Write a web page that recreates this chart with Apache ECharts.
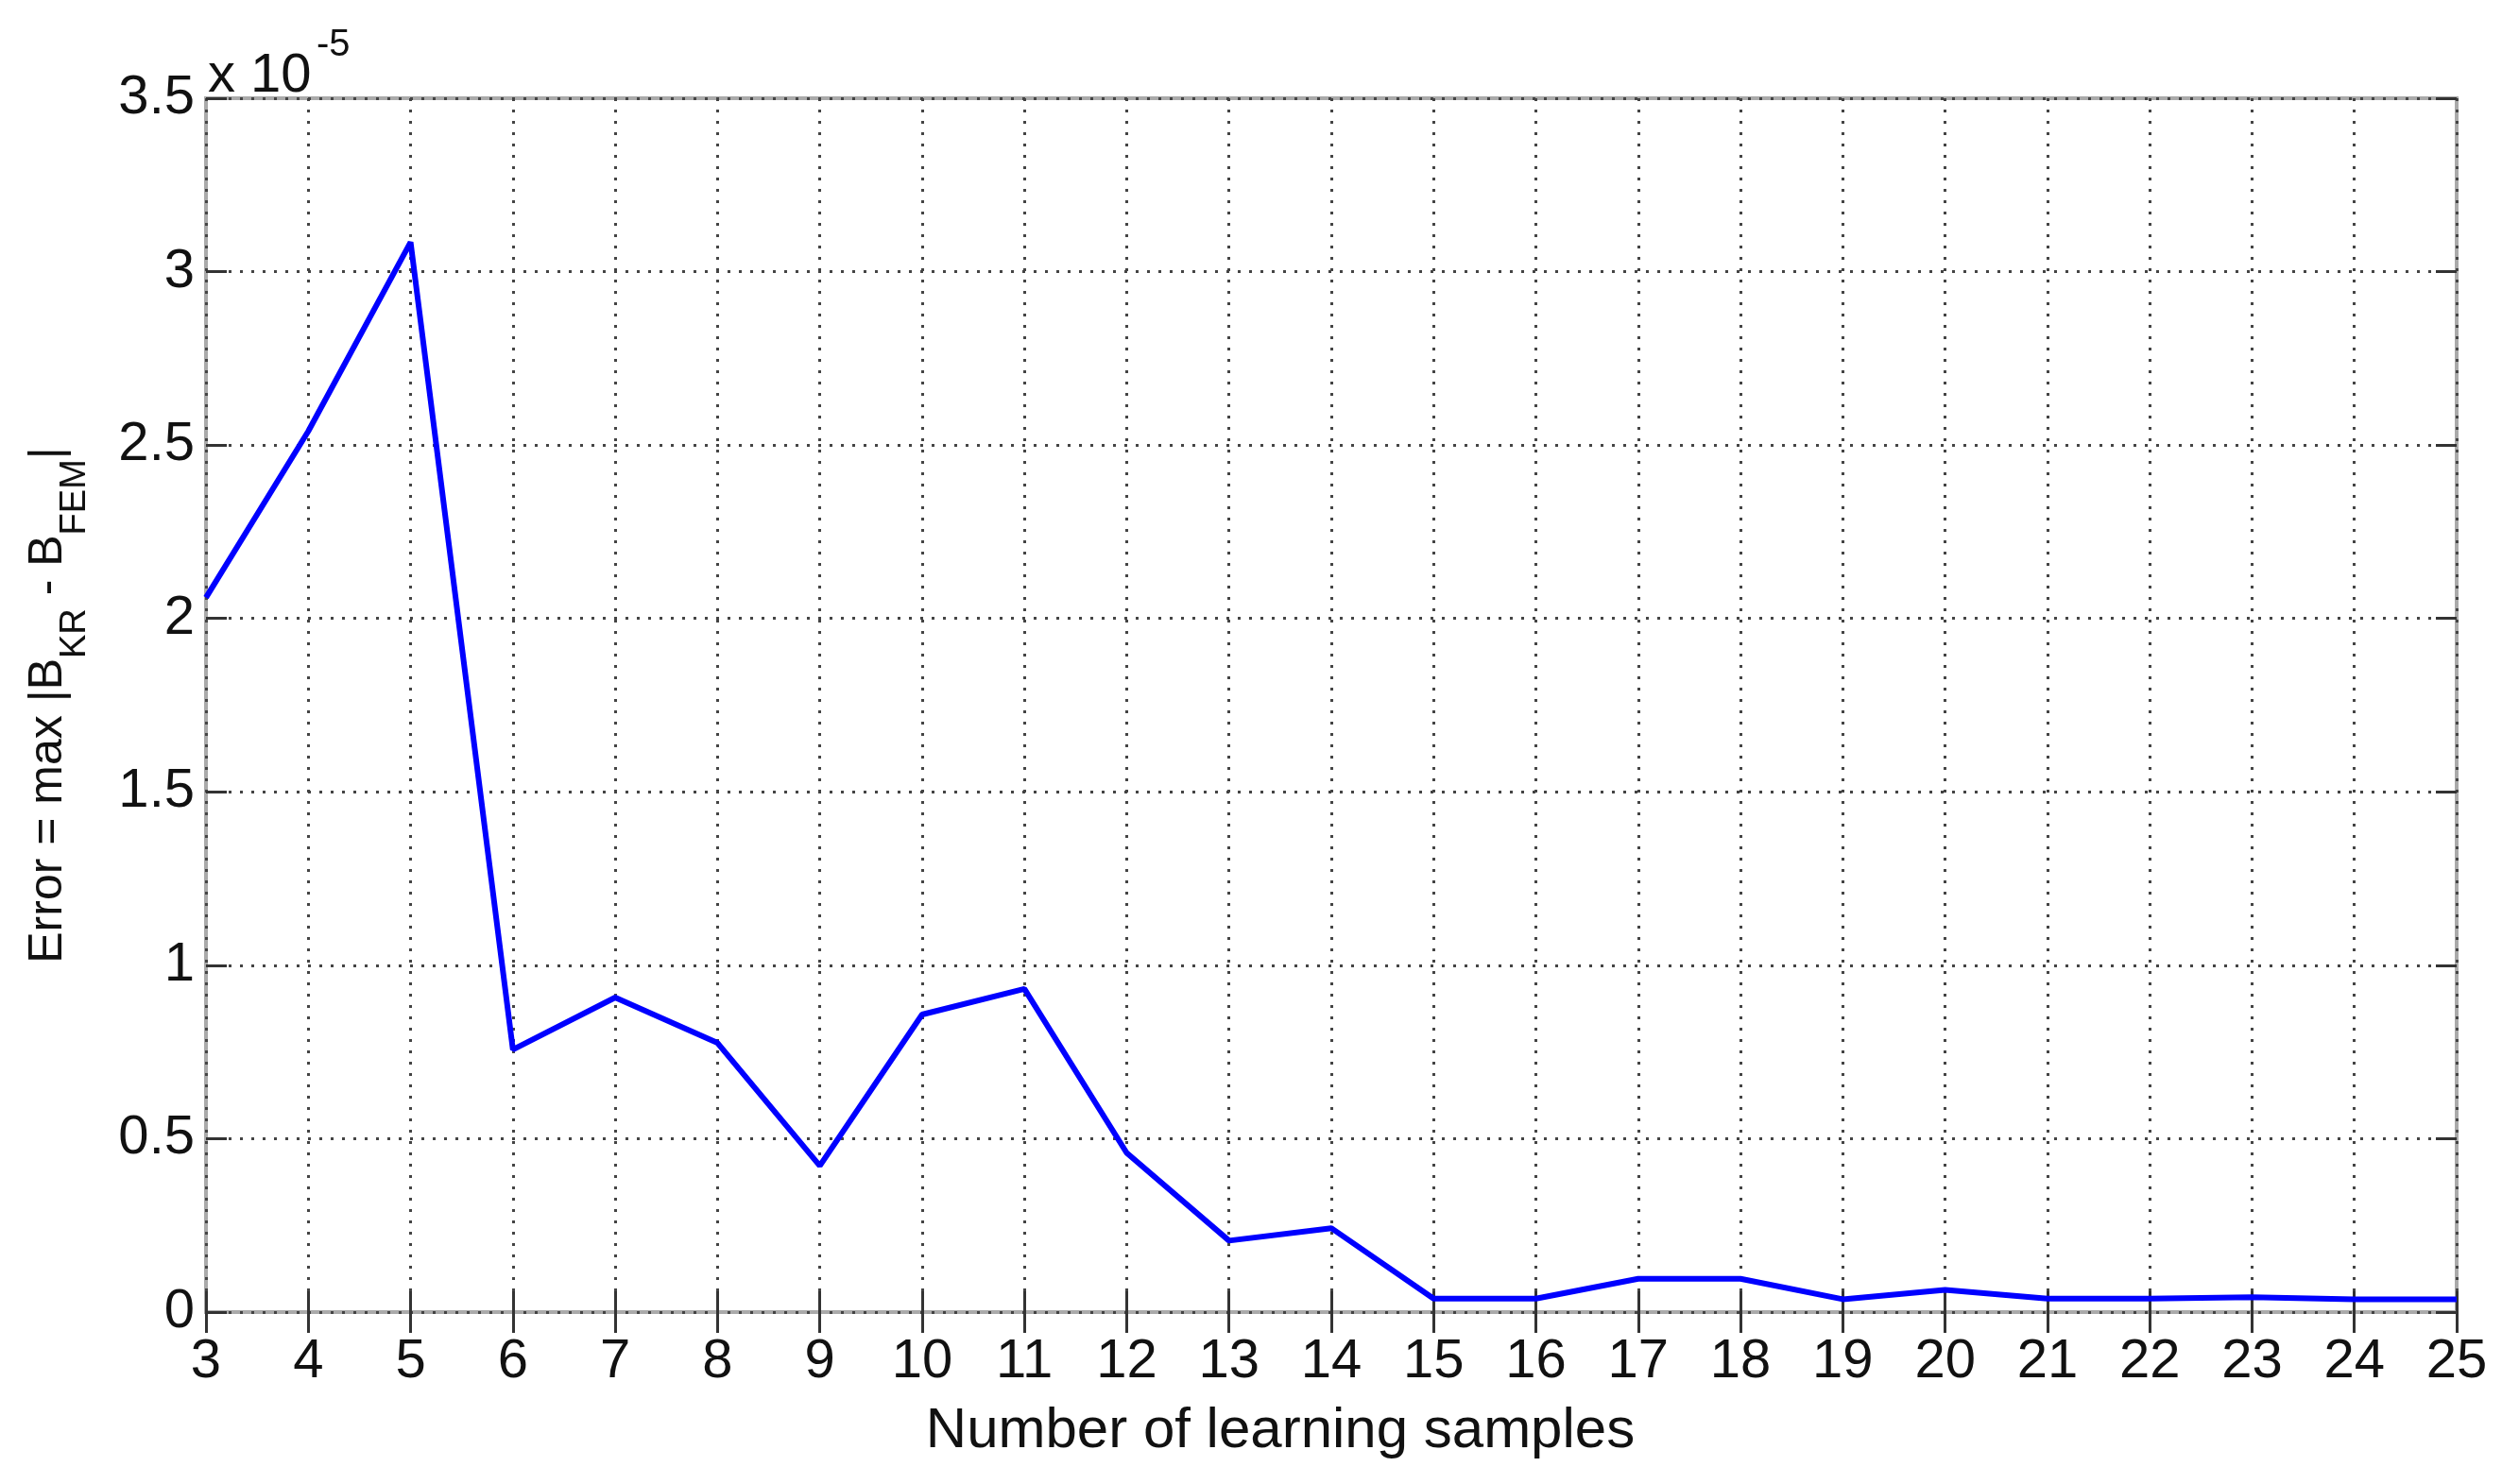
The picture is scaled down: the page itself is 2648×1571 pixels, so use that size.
<!DOCTYPE html>
<html>
<head>
<meta charset="utf-8">
<script src="https://cdn.jsdelivr.net/npm/echarts@6/dist/echarts.min.js"></script>
<style>
html,body{margin:0;padding:0;background:#fff;}
#chart{width:2648px;height:1571px;}
</style>
</head>
<body>
<div id="chart"></div>
<script>
// Number of learning samples
var samples = [3, 4, 5, 6, 7, 8, 9, 10, 11, 12, 13, 14, 15, 16, 17, 18, 19, 20, 21, 22, 23, 24, 25];
// Error values (in units of 1e-5)
var errorVals = [2.06, 2.54, 3.085, 0.757, 0.907, 0.776, 0.422, 0.858, 0.932, 0.459, 0.206, 0.242,
                 0.039, 0.039, 0.096, 0.096, 0.037, 0.064, 0.039, 0.039, 0.043, 0.037, 0.037];
var xTitle = 'Number of learning samples';
var yMin = 0, yMax = 3.5, yStep = 0.5;
var xMin = 3, xMax = 25, xStep = 1;
var exponentBase = 'x 10';
var exponentPow = '-5';

var FONT = "'Liberation Sans', Arial, Helvetica, sans-serif";
var FS = 58;

var chart = echarts.init(document.getElementById('chart'), null, {renderer: 'canvas'});

var dotted = {color: '#444', width: 3, type: [3, 9]};
var tickStyle = {show: true, inside: true, length: 22, lineStyle: {color: '#333', width: 3}};

var option = {
  backgroundColor: '#ffffff',
  animation: false,
  textStyle: {fontFamily: FONT},
  grid: {
    left: 218, right: 48, top: 104, bottom: 182,
    show: true, borderColor: '#aaaaaa', borderWidth: 4, backgroundColor: 'transparent'
  },
  graphic: [
    {type: 'text', left: 220, top: 52, style: {text: exponentBase, font: FS + 'px ' + FONT, fill: '#111'}},
    {type: 'text', left: 335, top: 28, style: {text: exponentPow, font: 40 + 'px ' + FONT, fill: '#111'}}
  ],
  xAxis: [{
    type: 'value', min: xMin, max: xMax, interval: xStep,
    name: xTitle, nameLocation: 'middle', nameGap: 96,
    nameTextStyle: {fontSize: 60, color: '#111', fontFamily: FONT, padding: [0, 108, 0, 0]},
    axisLine: {show: false},
    axisTick: tickStyle,
    axisLabel: {fontSize: FS, color: '#111', margin: 24, fontFamily: FONT},
    splitLine: {show: true, lineStyle: dotted}
  }, {
    type: 'value', min: xMin, max: xMax, interval: xStep, position: 'top',
    axisLine: {show: false},
    axisTick: tickStyle,
    axisLabel: {show: false}, splitLine: {show: false}
  }],
  yAxis: [{
    type: 'value', min: yMin, max: yMax, interval: yStep,
    name: '{n|Error = max |B}{s|KR}{n| - B}{s|FEM}{n||}',
    nameLocation: 'middle', nameGap: 119,
    nameTextStyle: {
      color: '#111', fontFamily: FONT,
      rich: {
        n: {fontSize: 50, lineHeight: 96, color: '#111', fontFamily: FONT},
        s: {fontSize: 38, lineHeight: 22, verticalAlign: 'bottom', color: '#111', fontFamily: FONT}
      }
    },
    axisLine: {show: false},
    axisTick: tickStyle,
    axisLabel: {fontSize: FS, color: '#111', margin: 12, fontFamily: FONT},
    splitLine: {show: true, lineStyle: dotted}
  }, {
    type: 'value', min: yMin, max: yMax, interval: yStep, position: 'right',
    axisLine: {show: false},
    axisTick: tickStyle,
    axisLabel: {show: false}, splitLine: {show: false}
  }],
  series: [{
    type: 'line',
    xAxisIndex: 0, yAxisIndex: 0,
    data: samples.map(function (x, i) { return [x, errorVals[i]]; }),
    symbol: 'none',
    lineStyle: {color: '#0000ff', width: 6},
    z: 5
  }]
};
chart.setOption(option);
</script>
</body>
</html>
